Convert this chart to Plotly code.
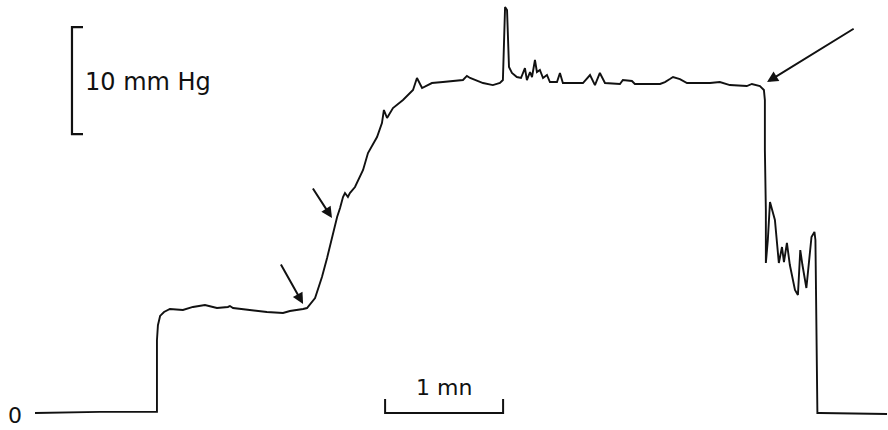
import plotly.graph_objects as go

# Time (s) and pressure (mm Hg) read from the recording
time_s = [0, 33.0, 62.0, 62.0, 62.0, 62.5, 63.6, 65.6, 68.6, 75.2, 80.3, 86.4, 92.5, 98.1, 99.1,
          100.7, 109.3, 117.9, 126.1, 129.6, 136.3, 138.3, 142.4, 145.9, 148.5, 151.5, 153.6,
          155.1, 156.6, 157.6, 159.1, 160.1, 162.7, 166.8, 169.3, 173.9, 176.4, 177.4, 179.0,
          182.0, 187.1, 192.2, 194.2, 196.8, 201.8, 207.4, 217.6, 219.6, 221.2, 227.8, 232.8,
          236.4, 237.9, 239.0, 240.0, 241.0, 242.5, 245.0, 247.1, 249.1, 250.1, 251.7, 252.7,
          254.2, 255.2, 256.7, 258.3, 260.3, 261.8, 265.4, 266.9, 268.4, 273.5, 278.6, 282.2,
          284.7, 287.2, 289.8, 297.4, 298.9, 303.5, 305.0, 317.8, 320.3, 322.8, 324.4, 327.9,
          331.5, 343.2, 348.2, 353.3, 361.9, 364.5, 368.6, 370.6, 371.1, 371.1, 371.6, 371.6,
          372.6, 373.7, 376.2, 378.2, 379.8, 380.8, 382.3, 383.8, 386.4, 387.9, 389.1, 390.2,
          392.2, 394.8, 396.3, 396.8, 397.3, 397.8, 399.1, 433.2]
pressure_mmHg = [0, 0.1, 0.1, 3.1, 6.8, 8.2, 9.07, 9.44, 9.72, 9.63, 9.91, 10.09, 9.81, 9.91, 10.0,
                 9.81, 9.63, 9.44, 9.35, 9.53, 9.72, 9.81, 10.75, 12.71, 14.49, 16.82, 18.32,
                 19.16, 20.19, 20.56, 20.19, 20.56, 21.12, 22.71, 24.30, 25.79, 27.10, 28.32, 27.57,
                 28.50, 29.25, 30.19, 31.31, 30.37, 30.84, 30.93, 31.12, 31.50, 31.31, 30.84, 30.65,
                 30.84, 31.12, 37.94, 37.66, 32.34, 31.78, 31.40, 31.31, 32.24, 31.12, 31.87, 31.40,
                 32.99, 31.87, 32.06, 31.31, 31.59, 30.93, 30.93, 31.78, 30.84, 30.84, 30.84, 31.59,
                 30.65, 31.78, 30.84, 30.75, 31.12, 31.03, 30.75, 30.75, 30.93, 31.21, 31.40, 31.21,
                 30.84, 30.84, 30.93, 30.65, 30.56, 30.75, 30.56, 30.19, 29.25, 24.58, 18.97, 14.02,
                 16.17, 19.72, 18.04, 14.02, 15.51, 14.11, 15.89, 13.83, 11.50, 11.03, 15.23, 13.83,
                 11.68, 16.45, 16.92, 16.17, 9.91, 0.0, 0.0, -0.1]

# Calibration bars
cal_pressure = 10   # mm Hg
cal_time = 60       # s (1 mn)

fig = go.Figure()
fig.add_trace(go.Scatter(x=time_s, y=pressure_mmHg, mode="lines",
                         line=dict(color="#111", width=1.9), hoverinfo="skip"))

# pressure calibration bracket
bx, bt = 18.8, 24.4
p0 = 26.07
fig.add_trace(go.Scatter(x=[bt, bx, bx, bt], y=[p0, p0, p0 + cal_pressure, p0 + cal_pressure],
                         mode="lines", line=dict(color="#111", width=2.2), hoverinfo="skip"))
# time calibration bar
t0 = 178.0
fig.add_trace(go.Scatter(x=[t0, t0, t0 + cal_time, t0 + cal_time], y=[1.3, 0, 0, 1.3],
                         mode="lines", line=dict(color="#111", width=2), hoverinfo="skip"))

fnt = dict(family="DejaVu Sans", size=22, color="#111")
anns = [
    dict(x=24.4, y=30.93, text="10 mm Hg", showarrow=False, xanchor="left", yanchor="middle",
         font=dict(family="DejaVu Sans", size=24, color="#111")),
    dict(x=t0 + cal_time / 2, y=2.4, text="1 mn", showarrow=False, xanchor="center", yanchor="middle",
         font=fnt),
    dict(x=-10.2, y=-0.25, text="0", showarrow=False, xanchor="center", yanchor="middle", font=fnt),
]
for hx, hy, tx, ty in [(136.3, 10.19, 124.6, 14.02), (151.0, 18.22, 140.8, 21.12),
                       (372.2, 30.93, 417.0, 36.0)]:
    anns.append(dict(x=hx, y=hy, ax=tx, ay=ty, axref="x", ayref="y", xref="x", yref="y",
                     showarrow=True, arrowhead=2, arrowsize=1.1, arrowwidth=2,
                     arrowcolor="#111", text=""))

fig.update_layout(
    width=888, height=430, margin=dict(l=0, r=0, t=0, b=0),
    paper_bgcolor="white", plot_bgcolor="white", showlegend=False,
    xaxis=dict(range=[-17.8, 433.7], visible=False),
    yaxis=dict(range=[-1.59, 38.6], visible=False),
    annotations=anns,
)
fig.write_html("out.html")
